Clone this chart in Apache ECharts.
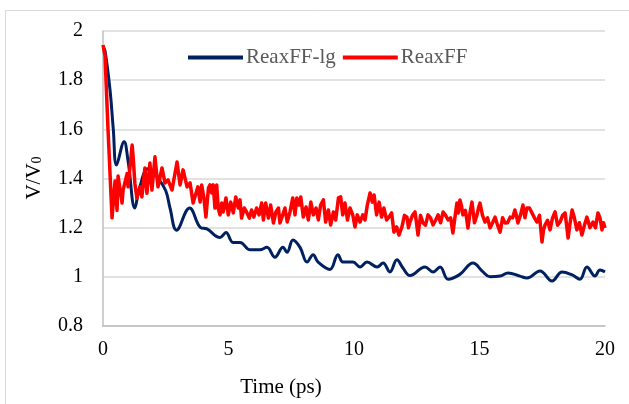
<!DOCTYPE html>
<html>
<head>
<meta charset="utf-8">
<script src="https://cdn.jsdelivr.net/npm/echarts@6/dist/echarts.min.js"></script>
<style>
  html, body { margin: 0; padding: 0; background: #fff; }
  #chart { width: 629px; height: 404px; }
</style>
</head>
<body>
<div id="chart"></div>
<script>
// ReaxFF-lg (navy) – time in ps, V/V0
const lgTime = [0, 0.08, 0.28, 0.41, 0.54, 0.84, 1.0, 1.27, 1.45, 1.8, 2.2, 2.5, 2.67, 2.93, 3.45, 3.89,
  4.14, 4.66, 4.9, 5.18, 5.46, 5.86, 6.25, 6.53, 6.85, 7.17, 7.33, 7.57, 7.85, 8.13, 8.37, 8.57,
  9.04, 9.36, 9.56, 9.96, 10.24, 10.52, 10.92, 11.16, 11.43, 11.71, 11.95, 12.23, 12.83, 13.15,
  13.43, 13.75, 14.22, 14.74, 15.14, 15.42, 15.82, 16.14, 16.61, 16.89, 17.41, 17.89, 18.29,
  18.69, 19.0, 19.28, 19.6, 19.8, 20.0]
const lgValue = [1.935, 1.92, 1.76, 1.6, 1.455, 1.55, 1.47, 1.28, 1.36, 1.44, 1.4, 1.35, 1.28, 1.19, 1.28, 1.2,
  1.195, 1.16, 1.18, 1.14, 1.14, 1.11, 1.11, 1.12, 1.08, 1.12, 1.1, 1.15, 1.12, 1.06, 1.09, 1.06,
  1.03, 1.09, 1.06, 1.06, 1.04, 1.06, 1.04, 1.056, 1.02, 1.07, 1.036, 1.005, 1.04, 1.02,
  1.04, 0.99, 1.01, 1.056, 1.02, 1.0, 1.003, 1.016, 1.003, 0.995, 1.024, 0.983, 1.02,
  1.008, 0.99, 1.04, 1.003, 1.028, 1.02]

// ReaxFF (red)
const rfTime = [0, 0.08, 0.2, 0.36, 0.48, 0.56, 0.6, 0.76, 0.8, 0.96, 1.0, 1.16, 1.2, 1.27, 1.35, 1.47,
  1.55, 1.67, 1.75, 1.87, 1.95, 2.07, 2.19, 2.35, 2.47, 2.59, 2.75, 2.95, 3.07, 3.19, 3.35, 3.47,
  3.59, 3.78,
  3.87, 3.93, 4.02, 4.10, 4.20, 4.26, 4.33, 4.39, 4.46, 4.53, 4.59, 4.66, 4.73, 4.79, 4.90, 4.99,
  5.09, 5.19, 5.29, 5.39, 5.46, 5.52, 5.63, 5.72, 5.83, 5.92, 6.01, 6.12, 6.22, 6.32, 6.39, 6.48,
  6.59, 6.68, 6.79, 6.89, 6.99, 7.05, 7.16, 7.25, 7.34, 7.45, 7.56, 7.65, 7.72, 7.81, 7.88, 7.98,
  8.09, 8.18, 8.28, 8.38, 8.49, 8.58, 8.67, 8.78, 8.87, 8.98, 9.07, 9.18, 9.27, 9.38, 9.47, 9.55,
  9.64, 9.74, 9.84, 9.95, 10.04, 10.13, 10.24, 10.35, 10.44, 10.53, 10.64, 10.73, 10.80, 10.90,
  11.00, 11.10, 11.19, 11.30, 11.39, 11.50, 11.59, 11.70, 11.79,
  11.91, 12.01, 12.11, 12.17, 12.23, 12.33, 12.43, 12.49, 12.55, 12.65, 12.75, 12.85, 12.95, 13.05,
  13.15, 13.25, 13.35, 13.45, 13.55, 13.65, 13.75, 13.85, 13.94, 14.02, 14.1, 14.16, 14.22, 14.28,
  14.34, 14.44, 14.54, 14.62, 14.7, 14.8, 14.9, 14.96, 15.02, 15.12, 15.22, 15.32, 15.42, 15.52,
  15.62, 15.72, 15.82, 15.92, 16.02, 16.12, 16.22, 16.32, 16.41, 16.47, 16.53, 16.63, 16.73, 16.81,
  16.89, 16.99, 17.09, 17.19, 17.29, 17.39, 17.49, 17.55, 17.61, 17.71, 17.81, 17.91, 18.01, 18.11,
  18.21, 18.31, 18.41, 18.47, 18.53, 18.61, 18.69, 18.78, 18.88, 18.98, 19.08, 19.18, 19.28, 19.4,
  19.52, 19.62, 19.72, 19.8, 19.88, 19.94, 20.0]
const rfValue = [1.943, 1.9, 1.6, 1.24, 1.39, 1.27, 1.41, 1.3, 1.353, 1.42, 1.366, 1.536, 1.49, 1.38, 1.32, 1.366,
  1.325, 1.443, 1.34, 1.463, 1.353, 1.488, 1.366, 1.443, 1.382, 1.394, 1.353, 1.467, 1.374, 1.435, 1.366, 1.382,
  1.3, 1.366,
  1.304, 1.374, 1.321, 1.243, 1.361, 1.374, 1.341, 1.374, 1.28, 1.374, 1.28, 1.252, 1.3, 1.264, 1.321, 1.252,
  1.304, 1.26, 1.325, 1.28, 1.313, 1.239, 1.28, 1.264, 1.239, 1.272, 1.243, 1.28, 1.252, 1.3, 1.231, 1.3,
  1.239, 1.292, 1.219, 1.264, 1.28, 1.219, 1.252, 1.28, 1.223, 1.264, 1.321, 1.252, 1.321, 1.292, 1.325, 1.243,
  1.284, 1.231, 1.304, 1.252, 1.28, 1.231, 1.292, 1.313, 1.223, 1.272, 1.211, 1.264, 1.231, 1.321, 1.325, 1.252,
  1.3, 1.231, 1.28, 1.252, 1.203, 1.252, 1.223, 1.252, 1.231, 1.292, 1.341, 1.304, 1.333, 1.252,
  1.304, 1.243, 1.28, 1.231, 1.243, 1.26, 1.182, 1.203, 1.17,
  1.203, 1.25, 1.243, 1.2, 1.223, 1.25, 1.264, 1.22, 1.17, 1.25, 1.219, 1.21, 1.252, 1.24,
  1.211, 1.23, 1.252, 1.22, 1.264, 1.25, 1.231, 1.24, 1.178, 1.24, 1.3, 1.26, 1.313, 1.29,
  1.252, 1.27, 1.199, 1.26, 1.304, 1.22, 1.252, 1.28, 1.3, 1.25, 1.223, 1.24, 1.199, 1.22,
  1.243, 1.21, 1.182, 1.24, 1.219, 1.22, 1.243, 1.24, 1.272, 1.25, 1.219, 1.25, 1.292, 1.24,
  1.28, 1.28, 1.26, 1.24, 1.223, 1.25, 1.142, 1.19, 1.211, 1.23, 1.191, 1.24, 1.264, 1.21,
  1.223, 1.25, 1.26, 1.21, 1.158, 1.22, 1.272, 1.24, 1.191, 1.22, 1.17, 1.21, 1.243, 1.2,
  1.223, 1.2, 1.26, 1.24, 1.191, 1.22, 1.199]

const seriesNames = ['ReaxFF-lg', 'ReaxFF']
const xTicks = { min: 0, max: 20, interval: 5 }
const yTicks = { min: 0.8, max: 2, interval: 0.2 }

const serif = '"Liberation Serif", "Times New Roman", serif'
const chart = echarts.init(document.getElementById('chart'))

const option = {
  animation: false,
  backgroundColor: '#fff',
  grid: { left: 103, right: 24, top: 31, bottom: 78 },
  legend: {
    data: seriesNames,
    left: 183,
    top: 42,
    icon: 'rect',
    itemWidth: 55,
    itemHeight: 4,
    itemGap: 7,
    textStyle: { fontFamily: serif, fontSize: 21, color: '#595959', padding: [0, 0, 0, -2] }
  },
  xAxis: {
    type: 'value',
    min: xTicks.min, max: xTicks.max, interval: xTicks.interval,
    axisLine: { show: true, lineStyle: { color: '#bfbfbf', width: 1.5 } },
    axisTick: { show: false },
    splitLine: { show: false },
    axisLabel: { fontFamily: serif, fontSize: 20, color: '#000', margin: 14 }
  },
  yAxis: {
    type: 'value',
    min: yTicks.min, max: yTicks.max, interval: yTicks.interval,
    axisLine: { show: true, lineStyle: { color: '#bfbfbf', width: 1.5 } },
    axisTick: { show: false },
    splitLine: { lineStyle: { color: '#d9d9d9', width: 1.5 } },
    axisLabel: { fontFamily: serif, fontSize: 20, color: '#000', margin: 20 }
  },
  series: [
    {
      name: seriesNames[0],
      type: 'line',
      data: lgTime.map((t, i) => [t, lgValue[i]]),
      showSymbol: false,
      smooth: 0.4,
      color: '#002060',
      lineStyle: { width: 3, color: '#002060' },
      z: 2
    },
    {
      name: seriesNames[1],
      type: 'line',
      data: rfTime.map((t, i) => [t, rfValue[i]]),
      showSymbol: false,
      smooth: false,
      color: '#ff0000',
      lineStyle: { width: 3.5, color: '#ff0000', join: 'round' },
      z: 3
    }
  ],
  graphic: [
    {
      type: 'rect',
      shape: { x: 5.5, y: 10.5, width: 700, height: 500 },
      style: { fill: 'none', stroke: '#d9d9d9', lineWidth: 1 },
      silent: true
    },
    {
      type: 'text',
      x: 281, y: 387,
      style: {
        text: 'Time (ps)', fontFamily: serif, fontSize: 21, fill: '#000',
        align: 'center', verticalAlign: 'middle'
      }
    },
    {
      type: 'text',
      x: 34, y: 178,
      rotation: Math.PI / 2,
      style: {
        text: '{a|V/V}{b|0}',
        align: 'center', verticalAlign: 'middle',
        rich: {
          a: { fontFamily: serif, fontSize: 21, fill: '#000', lineHeight: 21 },
          b: { fontFamily: serif, fontSize: 14, fill: '#000', lineHeight: 10, verticalAlign: 'bottom' }
        }
      }
    }
  ]
}

chart.setOption(option)
</script>
</body>
</html>
